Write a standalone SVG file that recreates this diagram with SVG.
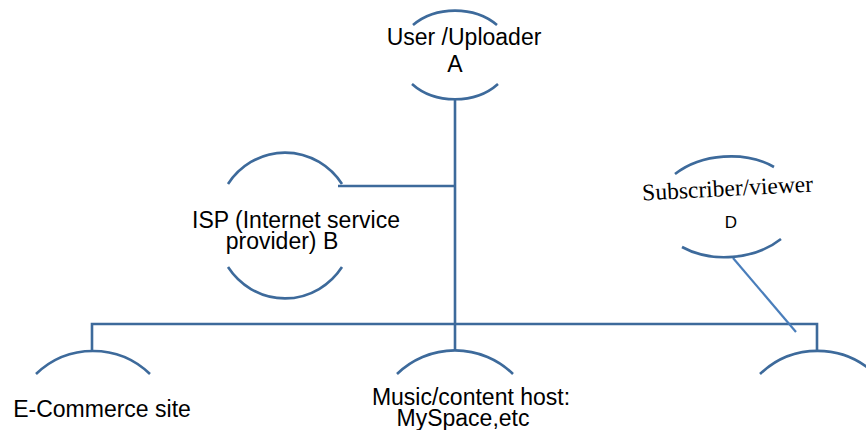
<svg xmlns="http://www.w3.org/2000/svg" width="866" height="430" viewBox="0 0 866 430">
<style>
.arc{fill:none;stroke:#3d6a9b;stroke-width:2.6}
.ln{fill:none;stroke:#3d6a9b;stroke-width:2.6}
.diag{fill:none;stroke:#4a7ebb;stroke-width:2.2}
.t{font-family:"Liberation Sans",Arial,sans-serif;font-size:23px;fill:#000;text-anchor:middle}
.s{font-family:"Liberation Serif","Times New Roman",serif;font-size:23.5px;fill:#000;text-anchor:middle}
</style>
<rect width="866" height="430" fill="#fff"/>
<g id="connectors">
<path class="ln" d="M455 100V351"/>
<path class="ln" d="M338 186H455"/>
<path class="ln" d="M92 351V324H817V351"/>
<path class="diag" d="M733 258L796 332"/>
</g>
<g id="nodeA">
<path class="arc" d="M413 25A57 44.5 0 0 1 497 25"/>
<path class="arc" d="M412 84A57 44.5 0 0 0 498 84"/>
<text class="t" x="464" y="45">User /Uploader</text>
<text class="t" x="455" y="72">A</text>
</g>
<g id="nodeB">
<path class="arc" d="M228 184A69 72 0 0 1 342 184"/>
<path class="arc" d="M228 267A69 72 0 0 0 342 267"/>
<text class="t" x="296" y="228">ISP (Internet service</text>
<text class="t" x="282" y="249">provider) B</text>
</g>
<g id="nodeD">
<path class="arc" d="M675 174A72 50.5 -4 0 1 774 167"/>
<path class="arc" d="M682 247A72 50.5 -4 0 0 781 239"/>
<text class="s" x="728" y="196" transform="rotate(-3 728 196)">Subscriber/viewer</text>
<text class="t" x="731" y="228" style="font-size:17px">D</text>
</g>
<g id="nodeEcommerce">
<path class="arc" d="M36 374A82 82 0 0 1 150 374"/>
<text class="t" x="102" y="417">E-Commerce site</text>
</g>
<g id="nodeMusic">
<path class="arc" d="M397 374A83 83 0 0 1 513 374"/>
<text class="t" x="471" y="405">Music/content host:</text>
<text class="t" x="463" y="426">MySpace,etc</text>
</g>
<g id="nodeRight">
<path class="arc" d="M760 374A83 83 0 0 1 875 374"/>
</g>
</svg>
